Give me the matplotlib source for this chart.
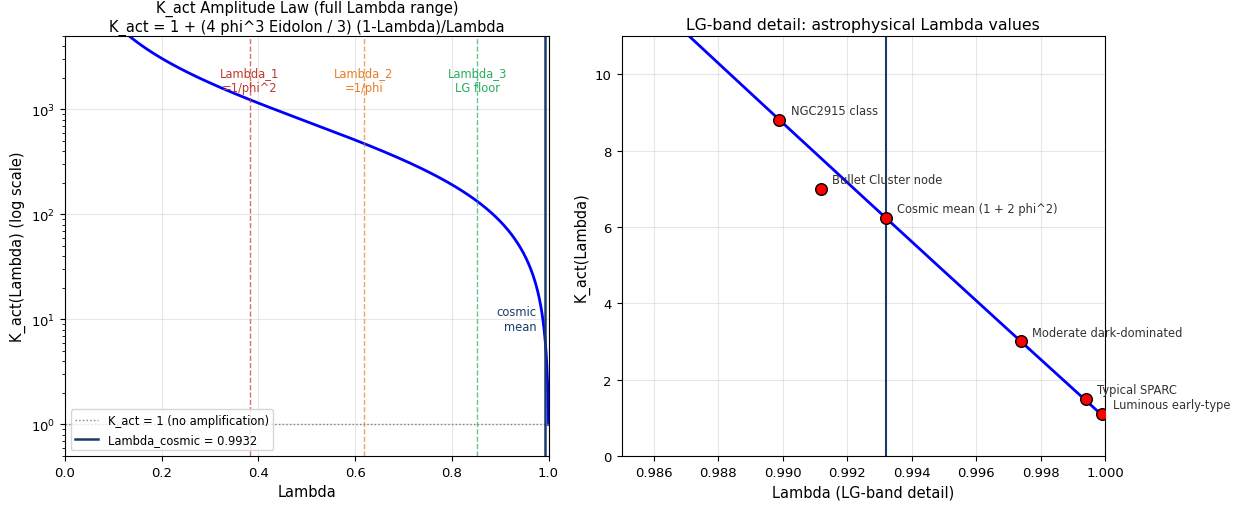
import matplotlib
matplotlib.use('Agg')
import matplotlib.pyplot as plt
import numpy as np

# Constants of the amplitude law
phi = (1 + 5 ** 0.5) / 2
lambda_cosmic = 0.9932
K_cosmic = 1 + 2 * phi ** 2
# amplitude fixed so that K_act(lambda_cosmic) = 1 + 2 phi^2
amp = (K_cosmic - 1) * lambda_cosmic / (1 - lambda_cosmic)

# Reference Lambda lines
ref_lambdas = [1 / phi ** 2, 1 / phi, 0.853]
ref_labels = ['Lambda_1\n=1/phi^2', 'Lambda_2\n=1/phi', 'Lambda_3\nLG floor']
ref_colors = ['#c0392b', '#e67e22', '#27ae60']

# Astrophysical systems
sys_names = ['NGC2915 class', 'Bullet Cluster node', 'Cosmic mean (1 + 2 phi^2)',
             'Moderate dark-dominated', 'Typical SPARC', 'Luminous early-type']
sys_lambda = [0.9899, 0.9912, 0.9932, 0.9974, 0.9994, 0.9999]
sys_K = [8.8, 7.0, 6.236, 3.0, 1.5, 1.1]

navy = '#1a3a6b'


def K_act(lam):
    return 1 + amp * (1 - lam) / lam


plt.rcParams['xtick.labelsize'] = 9.5
plt.rcParams['ytick.labelsize'] = 9.5

fig, (ax1, ax2) = plt.subplots(1, 2, figsize=(12.41, 5.06), dpi=100)
fig.subplots_adjust(left=0.0524, right=0.8904, bottom=0.0968, top=0.9269, wspace=0.151)

# Left panel: full range
lam = np.linspace(0.01, 1.0, 2000)
ax1.plot(lam, K_act(lam), color='blue', lw=2)
ax1.axhline(1, color='gray', ls=':', lw=1, label='K_act = 1 (no amplification)')
for x, lab, c in zip(ref_lambdas, ref_labels, ref_colors):
    ax1.axvline(x, color=c, ls='--', lw=1, alpha=0.7)
    ax1.text(x, 1900, lab, color=c, ha='center', va='center', fontsize=8.3)
ax1.axvline(lambda_cosmic, color=navy, lw=1.8, label='Lambda_cosmic = 0.9932')
ax1.text(0.975, 10, 'cosmic\nmean', color=navy, ha='right', va='center', fontsize=8.3)
ax1.set_yscale('log')
ax1.set_xlim(0, 1.0)
ax1.set_ylim(0.5, 5000)
ax1.set_xlabel('Lambda', fontsize=10.5)
ax1.set_ylabel('K_act(Lambda) (log scale)', fontsize=10.5)
ax1.set_title('K_act Amplitude Law (full Lambda range)\n'
              'K_act = 1 + (4 phi^3 Eidolon / 3) (1-Lambda)/Lambda', fontsize=10.5, pad=4)
ax1.grid(True, alpha=0.3)
ax1.legend(loc='lower left', fontsize=8.3)

# Right panel: LG-band detail
lam2 = np.linspace(0.985, 1.0, 500)
ax2.plot(lam2, K_act(lam2), color='blue', lw=2)
ax2.axvline(lambda_cosmic, color=navy, lw=1.5)
ax2.scatter(sys_lambda, sys_K, s=70, color='red', edgecolor='black', zorder=5)
for name, x, y in zip(sys_names, sys_lambda, sys_K):
    ax2.annotate(name, (x, y), xytext=(8, 2), textcoords='offset points',
                 fontsize=8.3, color='#333333', va='bottom')
ax2.set_xlim(0.985, 1.0)
ax2.set_ylim(0, 11)
ax2.set_xlabel('Lambda (LG-band detail)', fontsize=10.5)
ax2.set_ylabel('K_act(Lambda)', fontsize=10.5)
ax2.set_title('LG-band detail: astrophysical Lambda values', fontsize=11.3, pad=5)
ax2.grid(True, alpha=0.3)

plt.savefig('out.png', dpi=100)
